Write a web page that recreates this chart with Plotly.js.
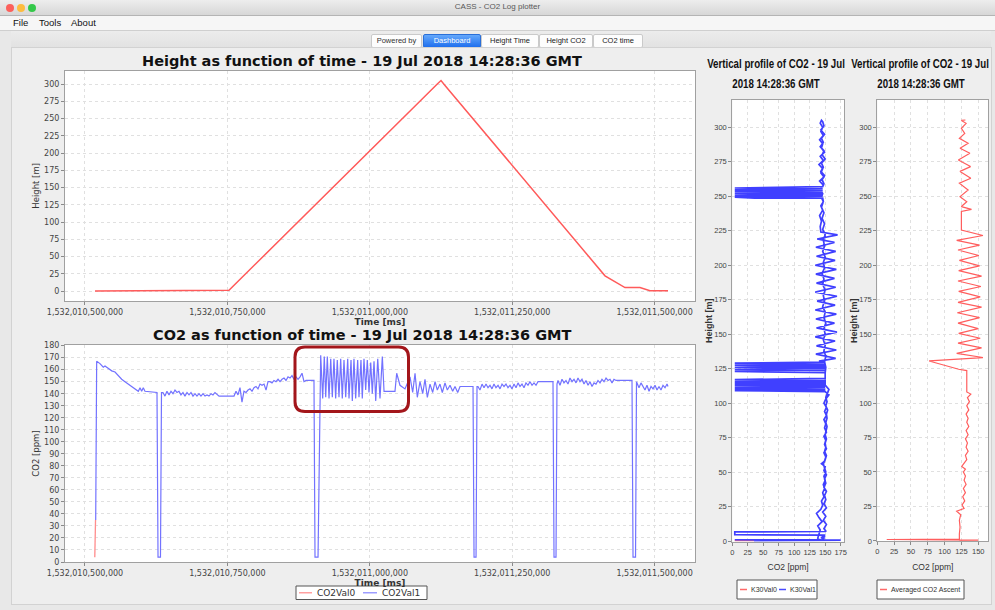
<!DOCTYPE html>
<html><head><meta charset="utf-8">
<script src="https://cdn.plot.ly/plotly-3.0.1.min.js"></script>
<style>
html,body{margin:0;padding:0}
body{width:995px;height:610px;overflow:hidden;background:#e8e8e8;position:relative;font-family:"DejaVu Sans",sans-serif}
#titlebar{position:absolute;left:0;top:0;width:995px;height:15px;background:linear-gradient(#ededed,#d7d7d7);border-bottom:1px solid #b4b4b4}
.dot{position:absolute;top:4px;width:8px;height:8px;border-radius:50%}
#ttl{position:absolute;left:0;top:2px;width:995px;text-align:center;font-size:8px;color:#585858;font-family:"Liberation Sans",sans-serif}
#menubar{position:absolute;left:0;top:16px;width:995px;height:14px;background:#f6f6f6;border-bottom:1px solid #cfcfcf;font-size:9.5px;font-family:"Liberation Sans",sans-serif;color:#111}
#menubar span{position:absolute;top:1px}
#tabzone{position:absolute;left:11px;top:31px;width:980px;height:16px;background:linear-gradient(#ececec,#e2e2e2)}
.tab{position:absolute;top:34px;height:12px;line-height:12px;font-size:7.5px;text-align:center;background:#fdfdfd;border:1px solid #cacaca;color:#222;font-family:"Liberation Sans",sans-serif;border-radius:2px}
#panel{position:absolute;left:11px;top:47px;width:979px;height:556px;background:#eeeeee;border:1px solid #d2d2d2}
#plot{position:absolute;left:0;top:0;width:995px;height:610px}
.ptitle{position:absolute;width:200px;text-align:center;font-family:"Liberation Sans",sans-serif;font-weight:bold;font-size:13.5px;line-height:16px;color:#111;transform:scaleX(0.72);transform-origin:center;white-space:nowrap;z-index:5}
</style></head>
<body>
<div id="titlebar">
  <div class="dot" style="left:6px;background:#fc605c"></div>
  <div class="dot" style="left:17px;background:#fdbc40"></div>
  <div class="dot" style="left:28px;background:#34c84a"></div>
  <div id="ttl">CASS - CO2 Log plotter</div>
</div>
<div id="menubar"><span style="left:13px">File</span><span style="left:39px">Tools</span><span style="left:71px">About</span></div>
<div id="tabzone"></div>
<div class="tab" style="left:371px;width:49px;color:#333">Powered by</div>
<div class="tab" style="left:423px;width:56px;background:linear-gradient(#64a8fb,#1f6fee);color:#fff;border-color:#2a6fd8">Dashboard</div>
<div class="tab" style="left:481px;width:56px">Height Time</div>
<div class="tab" style="left:539px;width:52px">Height CO2</div>
<div class="tab" style="left:593px;width:48px">CO2 time</div>
<div id="panel"></div>
<div id="plot"></div>
<div class="ptitle" style="left:676px;top:56px">Vertical profile of CO2 - 19 Jul</div>
<div class="ptitle" style="left:676px;top:76px">2018 14:28:36 GMT</div>
<div class="ptitle" style="left:820px;top:56px">Vertical profile of CO2 - 19 Jul</div>
<div class="ptitle" style="left:821px;top:76px">2018 14:28:36 GMT</div>
<script>
// ---------- data ----------
const T0_MS = 1532010000000;               // time values below are seconds after this epoch (ms)
const timeTicks = [1532010500000, 1532010750000, 1532011000000, 1532011250000, 1532011500000];

const heightTimeS = [517.6, 614.1, 752.8, 1118.5, 1125.0, 1132.0, 1374.3, 1412.9, 1448.0, 1474.3, 1491.9, 1523.5];
const heightM     = [0, 0.5, 1, 300, 305, 298, 59, 22, 5, 5, 0.5, 0.5];

const co2Val0TimeS = [517.2, 518.5];
const co2Val0      = [4, 35];

const co2Val1TimeS = [
 518.8,520.5,526.3,532.1,535.1,540.9,546.9,552.7,558.5,564.4,570.2,579.0,587.8,593.6,596.6,599.5,602.3,605.3,626.4,628.2,632.5,634.3,
 636.9,640.4,643.9,647.5,651.0,654.5,658.0,661.5,665.0,668.5,672.0,675.5,679.1,682.6,686.1,689.6,693.1,696.6,700.1,703.6,707.2,710.7,714.2,717.7,721.2,724.7,728.2,731.8,735.3,745.8,761.6,
 765.1,768.6,772.1,775.6,779.1,782.7,786.2,789.7,793.2,796.7,800.2,803.7,807.2,810.8,814.3,817.8,821.3,824.8,828.3,831.8,835.3,838.9,842.4,845.9,849.4,852.9,856.4,859.9,863.4,867.0,870.5,874.0,877.5,881.0,884.5,888.0,900.3,902.0,903.8,909.1,
 913.8,917.3,920.1,922.6,925.4,928.4,931.4,934.2,937.1,940.1,942.9,945.9,948.9,951.7,954.7,957.7,961.2,963.5,967.0,969.3,972.2,975.2,978.7,981.0,984.5,986.8,989.8,992.8,995.6,998.6,1001.6,1004.4,1007.4,1010.4,1013.9,1017.9,1022.0,1025.0,
 1044.2,1047.2,1053.0,1061.8,1070.6,1075.3,1079.4,1083.4,1088.1,1092.9,1096.9,1101.0,1105.7,1110.4,1114.5,1118.5,1123.2,1127.3,1132.0,1136.1,1140.8,1145.5,1149.6,1154.3,1158.4,1181.2,1183.0,1186.5,1188.2,
 1189.9,1193.4,1197.0,1200.5,1204.0,1207.5,1211.0,1214.5,1218.0,1221.5,1225.1,1228.6,1232.1,1235.6,1239.1,1242.6,1246.1,1249.6,1253.2,1256.7,1260.2,1263.7,1267.2,1270.7,1274.2,1277.7,1281.3,1284.8,1288.3,1291.8,1295.3,1298.8,1319.9,1321.6,1323.4,1326.9,1328.6,
 1330.4,1333.9,1337.4,1340.9,1344.4,1347.9,1351.4,1355.0,1358.5,1362.0,1365.5,1369.0,1372.5,1376.0,1379.5,1383.1,1386.6,1390.1,1393.6,1397.1,1400.6,1404.1,1407.6,1411.2,1414.7,1418.2,1421.7,1425.2,1428.7,1432.2,1458.6,1460.3,1462.1,1466.5,1468.2,
 1472.6,1476.1,1479.6,1483.1,1486.6,1490.2,1493.7,1497.2,1500.7,1504.2,1507.7,1511.2,1514.7,1518.3,1521.8,1523.5];
const co2Val1 = [
 35,167,165,162,163,161,159,158,155,152,150,147,144,142,145,142,145,142,141,4,4,141,
 141,138,142,139,142,140,143,141,142,139,141,138,141,139,141,138,140,138,140,138,140,138,139,138,140,139,141,139,138,138,138,
 142,139,145,133,142,141,143,144,142,145,146,144,148,147,148,143,150,150,149,151,150,152,150,152,153,151,154,153,155,152,154,152,154,157,150,151,151,151,4,4,
 172,136,171,137,171,136,169,137,169,136,168,137,169,136,168,137,169,136,168,134,169,136,168,137,168,136,169,143,168,141,166,140,167,134,169,136,171,142,
 142,157,147,144,154,141,157,137,150,140,152,137,148,141,150,143,148,141,149,143,147,142,146,141,146,146,4,4,146,
 146,143,148,145,148,145,147,144,148,145,147,144,148,146,148,145,147,144,148,145,149,146,148,145,149,147,150,147,149,147,150,150,150,150,4,4,148,
 151,147,152,149,151,148,153,150,152,149,153,150,152,148,151,147,150,146,149,148,151,149,152,150,153,151,152,149,152,151,151,151,4,4,150,
 145,149,146,143,147,142,146,144,147,143,146,143,147,145,148,146];

const k30Val0Co2    = [35, 4];
const k30Val0Height = [0.3, 0.3];

const k30Val1Co2 = [
 35,175,160,150,141,4,141,143,138,142,139,
 138,140,142,138,145,140,136,143,146,144,148,146,149,147,150,148,151,149,147,150,152,149,151,150,152,150,152,153,151,153,152,154,151,153,151,153,156,150,150,150,
 4,150,4,150,4,150,4,150,4,148,
 140,167,135,168,136,166,134,169,136,165,135,168,134,166,137,169,134,167,136,165,135,168,134,166,136,167,135,165,137,170,143,
 142,144,141,146,143,147,144,146,142,147,141,148,143,146,140,147,142,149,144,146,141,147,143,146,142,144,
 146,148,143,149,144,147,142,148,145,150,144,147,143,149,145,148,146,
 4,146,4,146,4,146,4,146,4,146,4,36,146,
 147,144,148,145,149,146,150,147,149,146,150,147,149,145,148,146,150,147,149,146,150,148,151,148,150,147,150,148,151,149,151,150,150,
 4,150,4,150,4,150,4,150,4,150,4,150,4,150,
 156,151,148,152,149,152,148,151,149,152,148,151,149,152,148,151,149,144,150,148,152,149,151,148,152,149,151,148,152,146,151,147,152,148,151,
 150,4,4,150,
 145,150,143,149,144,147,145];
const k30Val1Height = [
 0.3,0.6,0.8,0.6,0.7,0.9,0.7,0.8,0.9,1.0,1.2,
 2,5,8,11,14,17,20,23,26,29,32,35,38,41,44,47,50,53,56,59,62,65,68,71,74,77,80,83,86,89,92,95,98,101,104,107,110,113,116,122,
 123,123.8,124.5,125.3,126,126.8,127.5,128.3,129,129.7,
 130.5,132.5,135.5,138.5,141.5,145,148,151.5,154.5,158,161,164.5,167.5,171,174,177.5,180.5,184,187,190.5,193.5,197,200,203.5,206.5,210,213,216.5,219,222,224,
 228,232,236,240,243,246,249,252,255,258,261,264,267,270,273,276,279,282,285,288,291,294,297,300,303,305,
 304,301,298,295,292,289,286,283,280,277,274,271,268,265,262,259,257,
 256,255.3,254.6,254,253.3,252.6,252,251.3,250.6,250,249.3,248.6,248.7,
 246,242,238,234,230,226,222,218,214,210,206,202,198,194,190,186,182,178,174,170,166,162,158,154,150,146,142,138,134,130,126,122,118,
 117,116.3,115.6,115,114.3,113.6,113,112.3,111.6,111,110.3,109.6,109,108.3,
 106,103,100,97,94,91,88,85,82,79,76,73,70,67,64,61,58,56,54,51,48,45,42,39,36,33,30,27,24,21,18,15,12,9,7.2,
 6.9,6.6,4.6,4.3,
 3.8,3.2,2.6,2,1.4,1.0,0.6];

const avgAscentCo2 = [122,150,14,122,122,123,122,124,118,129,126,130,127,131,128,132,129,131,128,131,125.5,130,133,131,135,132,134,131,135,132,136,133,135,132,136,133,137,134,139,133,133,133,121,77,157,118,155,120,153,121,150,120,152,119,155,120,153,121,154,120,155,121,152,122,151,120,152,118,157,125,125,140,125,133,123,135,122,139,123,138.6,120.5,137.6,123,135,122,130,125,132,125,131];
const avgAscentHeight = [0.3,0.6,1.0,1.3,5,10,15,19,21.5,23.5,26,29,32,35,38,41,44,47,50,52,54,56.5,59,62,65,68,71,74,77,80,83,86,89,92,95,98,101,104,106.5,108,115,123.5,124.5,130.5,133,136,140,143.5,147,150.5,154,158,162,165.5,169.5,173,177,181,184.5,188.5,192,196,199.5,203.5,207,211,214.5,218,221.5,225.5,239,240.5,242.5,246,249.7,254.5,259.4,263,268,271.5,276.3,281.2,284.8,288.4,292,295.6,299.3,302.9,305,305.3];

// ---------- layout helpers ----------
const W = 995, H = 610;
const fx = px => px / W, fy = py => 1 - py / H;
const toMs = arr => arr.map(s => T0_MS + s * 1000);

const MAIN_FONT = 'DejaVu Sans, sans-serif';
const NARROW = 'Liberation Sans, Arial, sans-serif';

function axis(extra, narrow) {
  return Object.assign({
    showline: true, mirror: true, linecolor: '#a0a0a0', linewidth: 1,
    showgrid: true, gridcolor: '#e0e0e0', griddash: 'dot', gridwidth: 1,
    zeroline: false, ticks: 'outside', ticklen: 3, tickcolor: '#8a8a8a',
    tickfont: {family: narrow ? NARROW : MAIN_FONT, size: narrow ? 7.5 : 8, color: '#444'},
    fixedrange: true, automargin: false
  }, extra);
}
const axTitleFont = {family: MAIN_FONT, size: 8.5, color: '#333'};
const axTitleFontBold = {family: MAIN_FONT, size: 9, color: '#333', weight: 700};
const narrowTitleFont = {family: NARROW, size: 8.5, color: '#333'};
const narrowYTitleFont = {family: NARROW, size: 9, color: '#333', weight: 700};

const timeRange = [1532010464900, 1532011570900];

const COL = {height: '#ff5a5a', v0: '#ff8c8c', v1: '#7272ff', k0: '#ff6a6a', k1: '#4040ff', avg: '#ff5e5e'};

const traces = [
  {x: toMs(heightTimeS), y: heightM, xaxis: 'x', yaxis: 'y', type: 'scatter', mode: 'lines',
   line: {color: COL.height, width: 1.5}, showlegend: false, name: 'Height'},
  {x: toMs(co2Val0TimeS), y: co2Val0, xaxis: 'x2', yaxis: 'y2', type: 'scatter', mode: 'lines',
   name: 'CO2Val0', showlegend: false, line: {color: COL.v0, width: 1.3}},
  {x: toMs(co2Val1TimeS), y: co2Val1, xaxis: 'x2', yaxis: 'y2', type: 'scatter', mode: 'lines',
   name: 'CO2Val1', showlegend: false, line: {color: COL.v1, width: 1.2}},
  {x: k30Val0Co2, y: k30Val0Height, xaxis: 'x3', yaxis: 'y3', type: 'scatter', mode: 'lines',
   name: 'K30Val0', showlegend: false, line: {color: COL.k0, width: 1.5}},
  {x: k30Val1Co2, y: k30Val1Height, xaxis: 'x3', yaxis: 'y3', type: 'scatter', mode: 'lines',
   name: 'K30Val1', showlegend: false, line: {color: COL.k1, width: 1.7}},
  {x: avgAscentCo2, y: avgAscentHeight, xaxis: 'x4', yaxis: 'y4', type: 'scatter', mode: 'lines',
   name: 'Averaged CO2 Ascent', showlegend: false, line: {color: COL.avg, width: 1.2}}
];

function roundRect(x0, y0, x1, y1, r) {
  const P = (x, y) => fx(x) + ',' + fy(y);
  return 'M' + P(x0 + r, y0) + ' L' + P(x1 - r, y0) + ' Q' + P(x1, y0) + ' ' + P(x1, y0 + r) +
         ' L' + P(x1, y1 - r) + ' Q' + P(x1, y1) + ' ' + P(x1 - r, y1) +
         ' L' + P(x0 + r, y1) + ' Q' + P(x0, y1) + ' ' + P(x0, y1 - r) +
         ' L' + P(x0, y0 + r) + ' Q' + P(x0, y0) + ' ' + P(x0 + r, y0) + ' Z';
}

// legends drawn as boxes, line samples and texts (positions in page pixels)
const legendBoxes = [
  {box: [296, 586, 427, 599.5], items: [
    {name: 'CO2Val0', color: '#ffa0a0', x0: 299, x1: 312, tx: 315},
    {name: 'CO2Val1', color: '#9c9cff', x0: 363, x1: 377, tx: 380}], font: {family: MAIN_FONT, size: 9, color: '#333'}},
  {box: [737, 580, 817, 599], items: [
    {name: 'K30Val0', color: '#ff6a6a', x0: 740, x1: 747, tx: 748.5},
    {name: 'K30Val1', color: '#4a4aff', x0: 779, x1: 786, tx: 787.5}], font: {family: NARROW, size: 7, color: '#333'}},
  {box: [877, 580, 964, 599], items: [
    {name: 'Averaged CO2 Ascent', color: '#ff6a6a', x0: 880, x1: 887, tx: 888.5}], font: {family: NARROW, size: 7, color: '#333'}}
];
const legendShapes = [], legendAnn = [];
legendBoxes.forEach(lg => {
  const [bx0, by0, bx1, by1] = lg.box, yc = (by0 + by1) / 2;
  legendShapes.push({type: 'rect', xref: 'paper', yref: 'paper', x0: fx(bx0), x1: fx(bx1), y0: fy(by1), y1: fy(by0),
    fillcolor: '#ffffff', line: {color: '#555555', width: 1}, layer: 'above'});
  lg.items.forEach(it => {
    legendShapes.push({type: 'line', xref: 'paper', yref: 'paper', x0: fx(it.x0), x1: fx(it.x1), y0: fy(yc), y1: fy(yc),
      line: {color: it.color, width: 1.5}, layer: 'above'});
    legendAnn.push({text: it.name, x: fx(it.tx), y: fy(yc), xref: 'paper', yref: 'paper', xanchor: 'left', yanchor: 'middle',
      showarrow: false, font: lg.font});
  });
});

const titleFont = {family: MAIN_FONT, size: 14.5, color: '#111', weight: 700};

const layout = {
  width: W, height: H, margin: {l: 0, r: 0, t: 0, b: 0},
  paper_bgcolor: 'rgba(0,0,0,0)', plot_bgcolor: '#ffffff',
  hovermode: false, dragmode: false, showlegend: false,
  xaxis: axis({domain: [fx(65), fx(695)], anchor: 'y', range: timeRange, tickmode: 'array',
    tickvals: timeTicks, tickformat: ',.0f',
    title: {text: 'Time [ms]', font: axTitleFontBold, standoff: 0}}),
  yaxis: axis({domain: [fy(301), fy(70.7)], anchor: 'x', range: [-14.5, 319.3], tick0: 0, dtick: 25,
    title: {text: 'Height [m]', font: axTitleFont, standoff: 3}}),
  xaxis2: axis({domain: [fx(65), fx(695)], anchor: 'y2', range: timeRange, tickmode: 'array',
    tickvals: timeTicks, tickformat: ',.0f',
    title: {text: 'Time [ms]', font: axTitleFontBold, standoff: 0}}),
  yaxis2: axis({domain: [fy(562), fy(345)], anchor: 'x2', range: [0, 180.5], tick0: 0, dtick: 10,
    title: {text: 'CO2 [ppm]', font: axTitleFont, standoff: 3}}),
  xaxis3: axis({domain: [fx(732.3), fx(844)], anchor: 'y3', range: [0, 180.4], tick0: 0, dtick: 25,
    title: {text: 'CO2 [ppm]', font: narrowTitleFont, standoff: 8}}, true),
  yaxis3: axis({domain: [fy(541.7), fy(100)], anchor: 'x3', range: [-0.5, 319.8], tick0: 0, dtick: 25,
    title: {text: 'Height [m]', font: narrowYTitleFont, standoff: 0}}, true),
  xaxis4: axis({domain: [fx(877.3), fx(988.3)], anchor: 'y4', range: [0, 165], tick0: 0, dtick: 25,
    title: {text: 'CO2 [ppm]', font: narrowTitleFont, standoff: 8}}, true),
  yaxis4: axis({domain: [fy(541.3), fy(100)], anchor: 'x4', range: [-0.3, 319.8], tick0: 0, dtick: 25,
    title: {text: 'Height [m]', font: narrowYTitleFont, standoff: 0}}, true),
  annotations: [
    {text: 'Height as function of time - 19 Jul 2018 14:28:36 GMT', x: fx(362), y: fy(61), xref: 'paper', yref: 'paper',
     xanchor: 'center', yanchor: 'middle', showarrow: false, font: titleFont},
    {text: 'CO2 as function of time - 19 Jul 2018 14:28:36 GMT', x: fx(362), y: fy(335), xref: 'paper', yref: 'paper',
     xanchor: 'center', yanchor: 'middle', showarrow: false, font: titleFont}
  ].concat(legendAnn),
  shapes: [
    {type: 'path', xref: 'paper', yref: 'paper', path: roundRect(295, 347, 408.5, 411.5, 10),
     line: {color: '#a3161b', width: 3}, fillcolor: 'rgba(0,0,0,0)', layer: 'above'}
  ].concat(legendShapes)
};

Plotly.newPlot('plot', traces, layout, {staticPlot: true, displayModeBar: false, responsive: false});
</script>
</body></html>
